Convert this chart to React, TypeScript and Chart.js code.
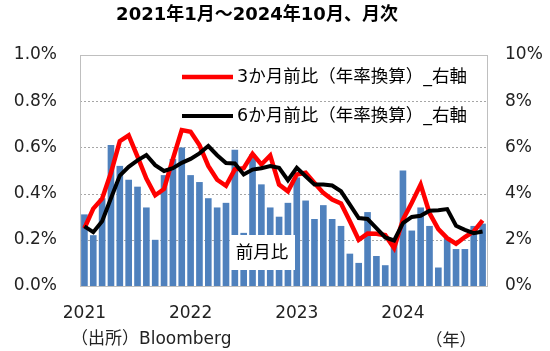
import React, { useEffect, useRef } from "react";
import { Chart, registerables } from "chart.js";

Chart.register(...registerables);

const years = ["2021", "2022", "2023", "2024"];
const monthsPerYear = ["01", "02", "03", "04", "05", "06", "07", "08", "09", "10", "11", "12"];
const categories: string[] = [];
years.forEach((y) => monthsPerYear.forEach((m) => categories.push(`${y}-${m}`)));
categories.length = 46; // Jan 2021 – Oct 2024

const momValues = [
  0.31, 0.22, 0.38, 0.61, 0.52, 0.46, 0.43, 0.34, 0.2, 0.48, 0.55, 0.6,
  0.48, 0.45, 0.38, 0.34, 0.36, 0.59, 0.23, 0.57, 0.44, 0.34, 0.3, 0.36,
  0.47, 0.37, 0.29, 0.35, 0.29, 0.26, 0.14, 0.1, 0.32, 0.13, 0.09, 0.2,
  0.5, 0.24, 0.34, 0.26, 0.08, 0.21, 0.16, 0.16, 0.26, 0.27,
];

const threeMonthAnn = [
  2.5, 3.35, 3.78, 4.9, 6.27, 6.52, 5.6, 4.65, 3.93, 4.2, 5.5, 6.75,
  6.68, 6.1, 5.2, 4.6, 4.34, 5.05, 5.1, 5.72, 5.26, 5.65, 4.39, 4.1,
  4.83, 4.9, 4.46, 4.03, 3.74, 3.57, 2.8, 2.0, 2.27, 2.26, 2.2, 1.64,
  2.87, 3.6, 4.39, 3.16, 2.46, 2.07, 1.83, 2.12, 2.36, 2.84,
];

const sixMonthAnn = [
  2.58, 2.33, 2.8, 3.8, 4.78, 5.16, 5.44, 5.67, 5.23, 4.98, 5.1, 5.33,
  5.5, 5.74, 6.06, 5.66, 5.32, 5.3, 4.83, 5.04, 5.1, 5.19, 5.12, 4.58,
  5.12, 4.75, 4.39, 4.39, 4.35, 4.1, 3.52, 2.94, 2.9, 2.51, 2.1, 1.97,
  2.72, 2.99, 3.04, 3.26, 3.28, 3.33, 2.61, 2.43, 2.29, 2.36,
];

const leftTicks = [0, 0.2, 0.4, 0.6, 0.8, 1.0];

const titleText = "2021年1月～2024年10月、月次";
const label3m = "3か月前比（年率換算）_右軸";
const label6m = "6か月前比（年率換算）_右軸";
const labelMoM = "前月比";
const sourceText = "（出所）Bloomberg";
const yearUnit = "（年）";

const FONT = '"DejaVu Sans", "Noto Sans CJK JP", sans-serif';
const RED = "#FF0000";
const BLACK = "#000000";
const BLUE = "#4F81BD";

const overlay = {
  id: "overlay",
  beforeDatasetsDraw(chart: any) {
    const { ctx, chartArea: a, scales } = chart;
    const y = scales.y;
    ctx.save();
    ctx.strokeStyle = "#A6A6A6";
    ctx.lineWidth = 1;
    ctx.setLineDash([2, 2]);
    leftTicks.forEach((v) => {
      if (v <= 0 || v >= 1) return;
      const py = Math.round(y.getPixelForValue(v)) + 0.5;
      ctx.beginPath();
      ctx.moveTo(a.left, py);
      ctx.lineTo(a.right, py);
      ctx.stroke();
    });
    ctx.setLineDash([]);
    ctx.strokeStyle = "#BFBFBF";
    ctx.strokeRect(Math.round(a.left) + 0.5, Math.round(a.top) + 0.5, Math.round(a.right - a.left), Math.round(a.bottom - a.top));
    ctx.restore();
  },
  afterDraw(chart: any) {
    const { ctx } = chart;
    ctx.save();
    ctx.fillStyle = "#000";
    ctx.textBaseline = "middle";
    // title
    ctx.font = `bold 18px ${FONT}`;
    ctx.textAlign = "center";
    ctx.fillText(titleText, 257, 15);
    // legend
    ctx.font = `17.5px ${FONT}`;
    ctx.textAlign = "left";
    const leg = [
      { c: RED, w: 4.5, t: label3m, y: 77 },
      { c: BLACK, w: 4, t: label6m, y: 116 },
    ];
    leg.forEach((l) => {
      ctx.strokeStyle = l.c;
      ctx.lineWidth = l.w;
      ctx.beginPath();
      ctx.moveTo(182, l.y);
      ctx.lineTo(233, l.y);
      ctx.stroke();
      ctx.fillStyle = "#000";
      ctx.fillText(l.t, 237, l.y);
    });
    // MoM label box
    ctx.fillStyle = "#FFFFFF";
    ctx.fillRect(230, 235, 65, 35);
    ctx.fillStyle = "#000";
    ctx.textAlign = "center";
    ctx.fillText(labelMoM, 262, 253);
    // footer
    ctx.font = `17px ${FONT}`;
    ctx.textAlign = "left";
    ctx.fillStyle = "#222";
    ctx.fillText(sourceText, 71, 340);
    ctx.textAlign = "center";
    ctx.fillText(yearUnit, 451, 342);
    ctx.restore();
  },
};

export default function App() {
  const ref = useRef<HTMLCanvasElement>(null);
  useEffect(() => {
    if (!ref.current) return;
    const chart = new Chart(ref.current, {
      type: "bar",
      data: {
        labels: categories,
        datasets: [
          {
            type: "line",
            label: label6m,
            data: sixMonthAnn,
            yAxisID: "y1",
            borderColor: BLACK,
            borderWidth: 4,
            pointRadius: 0,
            tension: 0,
            order: 1,
          },
          {
            type: "line",
            label: label3m,
            data: threeMonthAnn,
            yAxisID: "y1",
            borderColor: RED,
            borderWidth: 4.5,
            pointRadius: 0,
            tension: 0,
            order: 2,
          },
          {
            type: "bar",
            label: labelMoM,
            data: momValues,
            yAxisID: "y",
            backgroundColor: BLUE,
            barPercentage: 0.75,
            categoryPercentage: 1,
            order: 3,
          },
        ],
      },
      options: {
        responsive: false,
        animation: false,
        devicePixelRatio: 1,
        layout: { padding: { top: 55, left: 0, right: 0, bottom: 0 } },
        plugins: { legend: { display: false }, tooltip: { enabled: false }, title: { display: false } },
        scales: {
          x: {
            grid: { display: false, drawTicks: false },
            border: { display: false },
            ticks: {
              autoSkip: false,
              maxRotation: 0,
              padding: 17,
              color: "#222",
              font: { family: FONT, size: 17 },
              callback: (_v: any, i: number) => (i % 12 === 0 ? years[i / 12] : ""),
            },
            afterFit: (s: any) => {
              s.height = 65;
            },
          },
          y: {
            position: "left",
            min: 0,
            max: 1,
            grid: { display: false, drawTicks: false },
            border: { display: false },
            ticks: {
              stepSize: 0.2,
              padding: 23,
              color: "#222",
              font: { family: FONT, size: 17 },
              callback: (v: any) => Number(v).toFixed(1) + "%",
            },
            afterFit: (s: any) => {
              s.width = 80;
            },
          },
          y1: {
            position: "right",
            min: 0,
            max: 10,
            grid: { display: false, drawTicks: false },
            border: { display: false },
            ticks: {
              stepSize: 2,
              padding: 18,
              color: "#222",
              font: { family: FONT, size: 17 },
              callback: (v: any) => Math.round(Number(v)) + "%",
            },
            afterFit: (s: any) => {
              s.width = 63;
            },
          },
        },
      },
      plugins: [overlay],
    });
    return () => chart.destroy();
  }, []);
  return (
    <div style={{ position: "absolute", left: 0, top: 0, width: 550, height: 351, background: "#fff" }}>
      <canvas ref={ref} width={550} height={351} style={{ width: 550, height: 351, display: "block" }} />
    </div>
  );
}
